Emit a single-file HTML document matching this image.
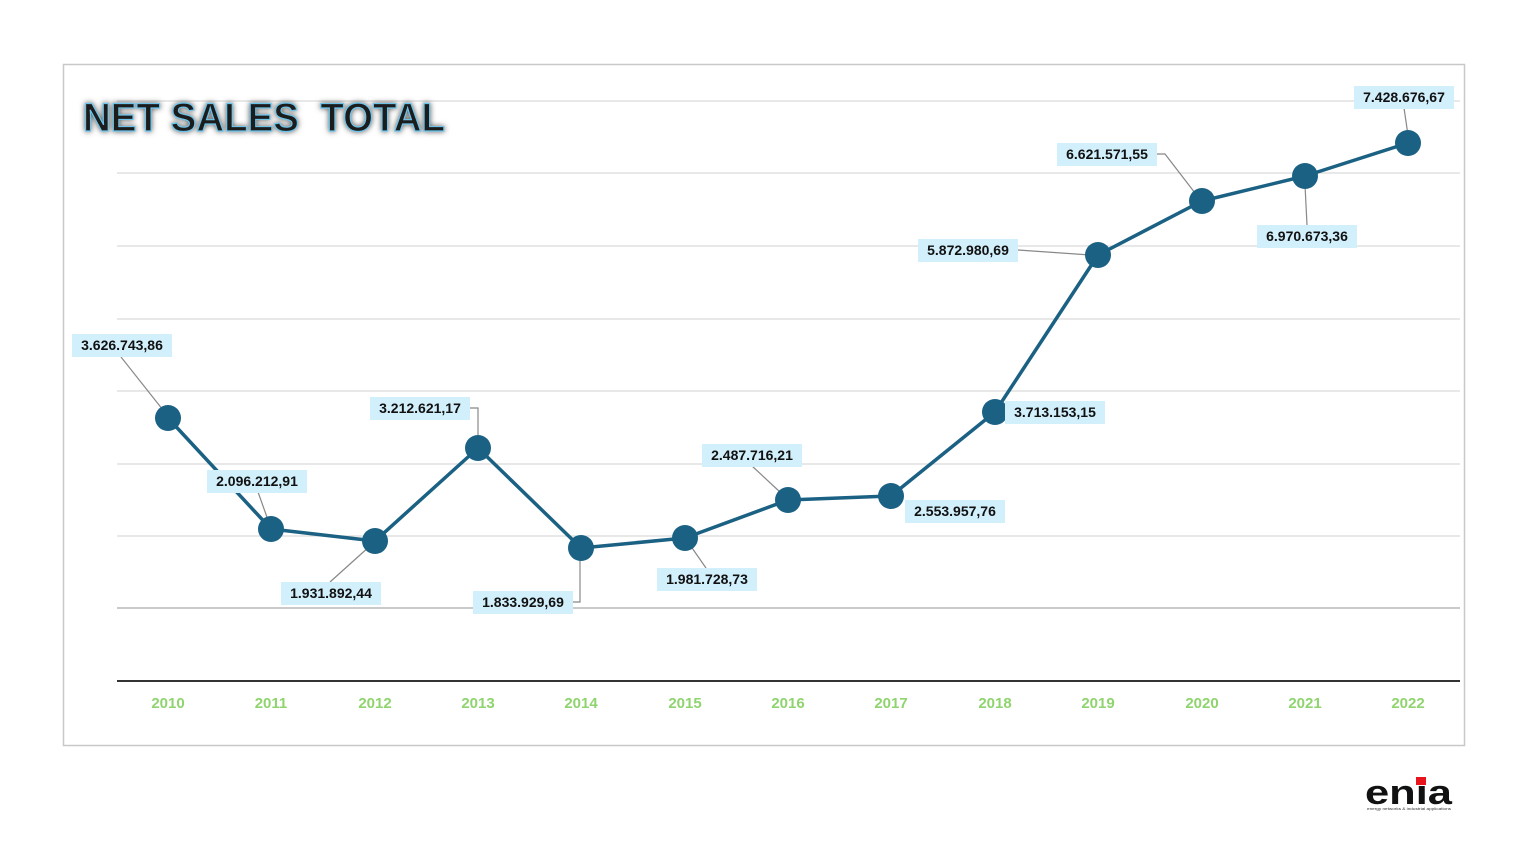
<!DOCTYPE html>
<html><head><meta charset="utf-8"><style>
html,body{margin:0;padding:0;background:#fff;}
svg{display:block;font-family:"Liberation Sans",Arial,sans-serif;}
</style></head><body>
<svg width="1536" height="864" viewBox="0 0 1536 864" xmlns="http://www.w3.org/2000/svg">
<defs>
<filter id="glow" x="-10%" y="-30%" width="120%" height="160%">
<feGaussianBlur in="SourceAlpha" stdDeviation="3" result="b"/>
<feFlood flood-color="#555"/><feComposite in2="b" operator="in" result="s"/>
<feMerge><feMergeNode in="s"/><feMergeNode in="SourceGraphic"/></feMerge>
</filter>
</defs>
<rect x="63.5" y="64.5" width="1401" height="681" fill="#fff" stroke="#c8c8c8" stroke-width="1.5"/>
<g stroke="#d9d9d9" stroke-width="1.2">
<line x1="117" x2="1460" y1="101" y2="101"/>
<line x1="117" x2="1460" y1="173" y2="173"/>
<line x1="117" x2="1460" y1="246" y2="246"/>
<line x1="117" x2="1460" y1="319" y2="319"/>
<line x1="117" x2="1460" y1="391" y2="391"/>
<line x1="117" x2="1460" y1="464" y2="464"/>
<line x1="117" x2="1460" y1="536" y2="536"/>
<line x1="117" x2="1460" y1="608" y2="608" stroke="#aaa"/>
</g>
<line x1="117" x2="1460" y1="681" y2="681" stroke="#333" stroke-width="2"/>
<text x="83" y="131" font-size="40" font-weight="bold" fill="#1a1a1a" stroke="#6cc4ea" stroke-width="1.2" filter="url(#glow)" xml:space="preserve" textLength="362" lengthAdjust="spacingAndGlyphs">NET SALES  TOTAL</text>
<g font-size="15" font-weight="bold" fill="#8fd46e" text-anchor="middle">
<text x="168" y="708">2010</text><text x="271" y="708">2011</text><text x="375" y="708">2012</text><text x="478" y="708">2013</text><text x="581" y="708">2014</text><text x="685" y="708">2015</text><text x="788" y="708">2016</text><text x="891" y="708">2017</text><text x="995" y="708">2018</text><text x="1098" y="708">2019</text><text x="1202" y="708">2020</text><text x="1305" y="708">2021</text><text x="1408" y="708">2022</text>
</g>
<g stroke="#888" stroke-width="1.2" fill="none">
<polyline points="121,357 163,410"/>
<polyline points="258,492 268,520"/>
<polyline points="330,582 370,546"/>
<polyline points="470,408 478,408 478,440"/>
<polyline points="573,602 580,602 580,555"/>
<polyline points="706,568 690,545"/>
<polyline points="752,466 780,492"/>
<polyline points="1018,250 1090,255"/>
<polyline points="1157,154 1165,154 1195,193"/>
<polyline points="1307,225 1305,185"/>
<polyline points="1404,108 1408,135"/>
</g>
<polyline points="168,418 271,529 375,541 478,448 581,548 685,538 788,500 891,496 995,412 1098,255 1202,201 1305,176 1408,143" fill="none" stroke="#1b6184" stroke-width="3.5" stroke-linejoin="round"/>
<g fill="#1b6184">
<circle cx="168" cy="418" r="13"/><circle cx="271" cy="529" r="13"/><circle cx="375" cy="541" r="13"/><circle cx="478" cy="448" r="13"/><circle cx="581" cy="548" r="13"/><circle cx="685" cy="538" r="13"/><circle cx="788" cy="500" r="13"/><circle cx="891" cy="496" r="13"/><circle cx="995" cy="412" r="13"/><circle cx="1098" cy="255" r="13"/><circle cx="1202" cy="201" r="13"/><circle cx="1305" cy="176" r="13"/><circle cx="1408" cy="143" r="13"/>
</g>
<g fill="#d2effc">
<rect x="72" y="334" width="100" height="23"/>
<rect x="207" y="470" width="100" height="23"/>
<rect x="281" y="582" width="100" height="23"/>
<rect x="370" y="397" width="100" height="23"/>
<rect x="473" y="591" width="100" height="23"/>
<rect x="657" y="568" width="100" height="23"/>
<rect x="702" y="444" width="100" height="23"/>
<rect x="905" y="500" width="100" height="23"/>
<rect x="1005" y="401" width="100" height="23"/>
<rect x="918" y="239" width="100" height="23"/>
<rect x="1057" y="143" width="100" height="23"/>
<rect x="1257" y="225" width="100" height="23"/>
<rect x="1354" y="86" width="100" height="23"/>
</g>
<g font-size="14" font-weight="bold" fill="#111" text-anchor="middle">
<text x="122" y="350">3.626.743,86</text>
<text x="257" y="486">2.096.212,91</text>
<text x="331" y="598">1.931.892,44</text>
<text x="420" y="413">3.212.621,17</text>
<text x="523" y="607">1.833.929,69</text>
<text x="707" y="584">1.981.728,73</text>
<text x="752" y="460">2.487.716,21</text>
<text x="955" y="516">2.553.957,76</text>
<text x="1055" y="417">3.713.153,15</text>
<text x="968" y="255">5.872.980,69</text>
<text x="1107" y="159">6.621.571,55</text>
<text x="1307" y="241">6.970.673,36</text>
<text x="1404" y="102">7.428.676,67</text>
</g>
<text x="1365" y="804" font-size="34" font-weight="bold" fill="#111" textLength="87" lengthAdjust="spacingAndGlyphs">enia</text>
<rect x="1416" y="777" width="10" height="8" fill="#e8141c"/>
<text x="1367" y="810" font-size="4" fill="#333" textLength="84" lengthAdjust="spacingAndGlyphs">energy networks &amp; industrial applications</text>
</svg>
</body></html>
